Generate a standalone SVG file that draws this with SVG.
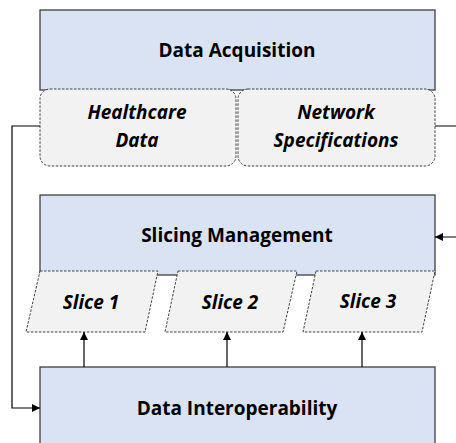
<svg xmlns="http://www.w3.org/2000/svg" width="456" height="443" viewBox="0 0 456 443">
<style>
.blk{fill:#dae3f3;stroke:#404040;stroke-width:1.3}
.sub{fill:#f2f2f2;stroke:#404040;stroke-width:1;stroke-dasharray:2.5 1.5}
.t{font-family:"Open Sans","Noto Sans",sans-serif;font-weight:bold;font-size:19px;fill:#000;text-anchor:middle;dominant-baseline:central}
.i{font-style:italic}
.ln{fill:none;stroke:#000;stroke-width:1.2}
</style>
<defs>
<marker id="ah" viewBox="0 0 10 10" refX="10" refY="5" markerWidth="8" markerHeight="8" markerUnits="userSpaceOnUse" orient="auto">
<path d="M0,0 L10,5 L0,10 z" fill="#000"/>
</marker>
</defs>
<g id="data-acquisition">
<rect class="blk" x="40" y="10" width="395" height="80"/>
<text class="t" x="237" y="50">Data Acquisition</text>
</g>
<g id="healthcare-data">
<rect class="sub" x="40" y="89" width="196" height="77" rx="10"/>
<text class="t i" x="137" y="112">Healthcare</text>
<text class="t i" x="137" y="140">Data</text>
</g>
<g id="network-specifications">
<rect class="sub" x="238" y="89" width="197" height="77" rx="10"/>
<text class="t i" x="336" y="112">Network</text>
<text class="t i" x="336" y="140">Specifications</text>
</g>
<g id="slicing-management">
<rect class="blk" x="40" y="195" width="395" height="80"/>
<text class="t" x="237" y="235">Slicing Management</text>
</g>
<g id="slice-1">
<polygon class="sub" points="40,271 158,271 145,332 26,332"/>
<text class="t i" x="91" y="302">Slice 1</text>
</g>
<g id="slice-2">
<polygon class="sub" points="178,271 297,271 283,332 165,332"/>
<text class="t i" x="230" y="302">Slice 2</text>
</g>
<g id="slice-3">
<polygon class="sub" points="316,271 435,271 422,332 303,332"/>
<text class="t i" x="368" y="301">Slice 3</text>
</g>
<g id="data-interoperability">
<rect class="blk" x="40" y="367" width="395" height="90"/>
<text class="t" x="237" y="408">Data Interoperability</text>
</g>
<g id="connectors">
<path class="ln" d="M40,126 H12 V408 H40" marker-end="url(#ah)"/>
<path class="ln" d="M435,126 H458 V237 H435" marker-end="url(#ah)"/>
<path class="ln" d="M84,367 V332" marker-end="url(#ah)"/>
<path class="ln" d="M227,367 V332" marker-end="url(#ah)"/>
<path class="ln" d="M362,367 V332" marker-end="url(#ah)"/>
</g>
</svg>
